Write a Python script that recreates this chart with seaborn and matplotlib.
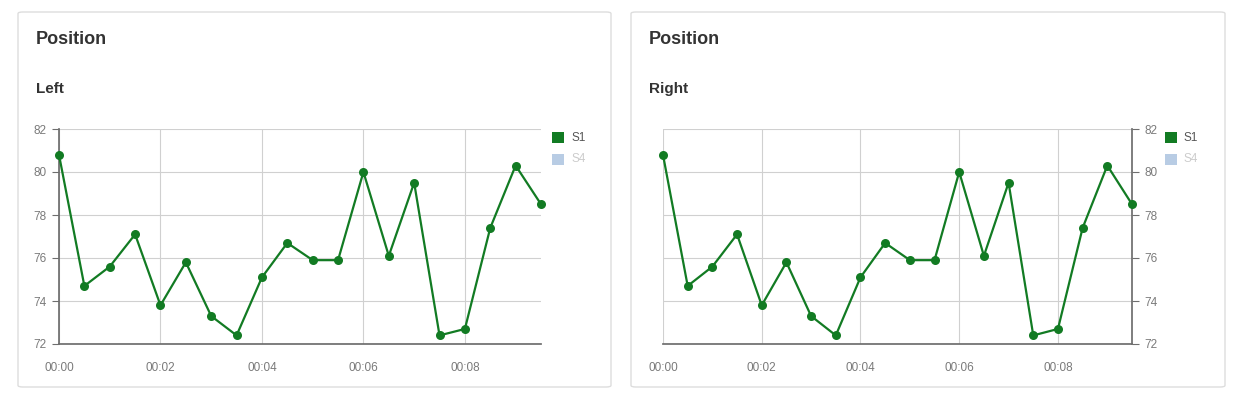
import pandas as pd
import matplotlib.pyplot as plt
import seaborn as sns
from matplotlib.patches import FancyBboxPatch, Rectangle
from matplotlib.ticker import FuncFormatter, MultipleLocator

# time in minutes (one sample every 30 s) and position values
minutes = [0.0, 0.5, 1.0, 1.5, 2.0, 2.5, 3.0, 3.5, 4.0, 4.5,
           5.0, 5.5, 6.0, 6.5, 7.0, 7.5, 8.0, 8.5, 9.0, 9.5]
s1_values = [80.8, 74.7, 75.6, 77.1, 73.8, 75.8, 73.3, 72.4, 75.1, 76.7,
             75.9, 75.9, 80.0, 76.1, 79.5, 72.4, 72.7, 77.4, 80.3, 78.5]
series_names = ["S1", "S4"]
series_colors = ["#127b23", "#b8cce4"]
legend_text_colors = ["#555555", "#cccccc"]
panel_titles = ["Left", "Right"]

df = pd.DataFrame({"minute": minutes, "value": s1_values})

W, H = 1238, 398
sns.set_theme(style="white")
plt.rcParams['font.family'] = ['Liberation Sans', 'DejaVu Sans']
fig = plt.figure(figsize=(W / 100, H / 100), dpi=100)


def fx(px):
    return px / W


def fy(py):
    return 1 - py / H


grid_color = "#d0d0d0"
axis_color = "#6e6e6e"
tick_color = "#7a7a7a"

panels = [
    {"card": (18, 611), "axes": (59, 541), "yside": "left", "legend_x": 552},
    {"card": (631, 1225), "axes": (663, 1132), "yside": "right", "legend_x": 1165},
]

for i, p in enumerate(panels):
    cx0, cx1 = p["card"]
    card = FancyBboxPatch((fx(cx0), fy(387)), fx(cx1 - cx0), (387 - 12) / H,
                          boxstyle="round,pad=0,rounding_size=0.004",
                          transform=fig.transFigure, facecolor="white",
                          edgecolor="#dddddd", linewidth=1, zorder=-5)
    fig.patches.append(card)
    fig.text(fx(cx0 + 18), fy(39), "Position", fontsize=13, fontweight="bold",
             color="#333333", va="center", ha="left")
    fig.text(fx(cx0 + 18), fy(89), panel_titles[i], fontsize=11, fontweight="bold",
             color="#333333", va="center", ha="left")

    ax0, ax1 = p["axes"]
    ax = fig.add_axes([fx(ax0), fy(344), fx(ax1 - ax0), (344 - 129) / H])
    ax.patch.set_alpha(0)
    sns.lineplot(data=df, x="minute", y="value", ax=ax, color=series_colors[0],
                 linewidth=1.6, marker="o", markersize=6.5,
                 markeredgewidth=0, zorder=3, clip_on=False)
    ax.set_xlim(0, 9.5)
    ax.set_ylim(72, 82)
    ax.xaxis.set_major_locator(MultipleLocator(2))
    ax.yaxis.set_major_locator(MultipleLocator(2))
    ax.xaxis.set_major_formatter(FuncFormatter(lambda v, pos: f"00:{int(round(v)):02d}"))
    ax.grid(True, color=grid_color, linewidth=0.8)
    ax.set_axisbelow(True)
    ax.set_xlabel("")
    ax.set_ylabel("")
    for s in ax.spines.values():
        s.set_visible(False)
    ax.spines["bottom"].set_visible(True)
    ax.spines["bottom"].set_color(axis_color)
    ax.spines[p["yside"]].set_visible(True)
    ax.spines[p["yside"]].set_color(axis_color)
    if p["yside"] == "right":
        ax.yaxis.tick_right()
    ax.tick_params(axis="both", which="major", length=5, width=0.8, color=axis_color,
                   labelcolor=tick_color, labelsize=8.5, pad=4)
    ax.tick_params(axis="x", pad=8)
    ax.tick_params(axis="y", left=p["yside"] == "left", right=p["yside"] == "right")

    # legend
    lx = p["legend_x"]
    for j, name in enumerate(series_names):
        top = 132 + j * 22
        fig.patches.append(Rectangle((fx(lx), fy(top + 11)), fx(12), 11 / H,
                                     transform=fig.transFigure,
                                     facecolor=series_colors[j], edgecolor="none"))
        fig.text(fx(lx + 19), fy(top + 5.5), name, fontsize=8.5,
                 color=legend_text_colors[j], va="center", ha="left")

fig.savefig("out.png", dpi=100)
